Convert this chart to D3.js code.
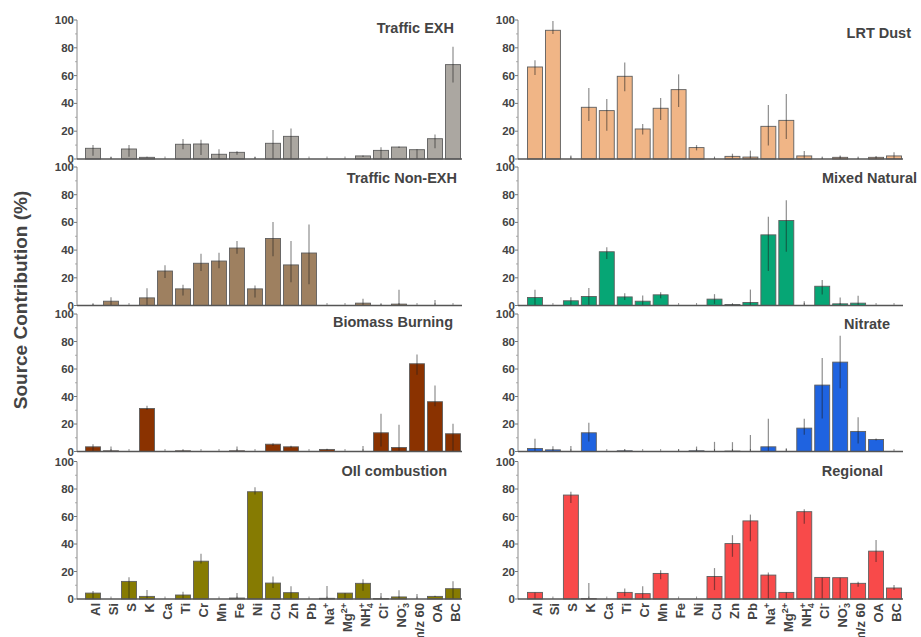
<!DOCTYPE html>
<html>
<head>
<meta charset="utf-8">
<script src="https://cdnjs.cloudflare.com/ajax/libs/d3/7.8.5/d3.min.js"></script>
<style>
  html, body { margin: 0; padding: 0; background: #fff; }
  svg { display: block; font-family: Arial, "Liberation Sans", sans-serif; }
</style>
</head>
<body>
<svg id="chart" width="921" height="637"></svg>
<script>
// Species on the x axis (shared by all eight source profiles)
const categories = ["Al","Si","S","K","Ca","Ti","Cr","Mn","Fe","Ni","Cu","Zn","Pb",
  "Na+","Mg2+","NH4+","Cl-","NO3-","m/z 60","OA","BC"];
const yTicks = [0, 20, 40, 60, 80, 100];
const yMinorTicks = [10, 30, 50, 70, 90];

// Source contribution (%) with lower / upper error bounds per species
const trafficExhVal = [7.7,0,7.2,1.2,0,10.6,10.8,3.4,4.8,0,11.3,16.3,0,0,0,2.2,6.2,8.6,6.7,14.6,67.9];
const trafficExhLo  = [2.4,0,1.7,1.0,0,7.0,2.9,0,3.0,0,0,0,0,0,0,1.5,0,8.0,0,7.7,55];
const trafficExhHi  = [10,1.5,10,1.5,0,14.4,13.9,7,5.5,1.5,20.9,22,0,0,0,2.5,8.4,9,7,17.7,80.8];

const lrtDustVal = [66.2,92.6,0,37.2,34.8,59.5,21.6,36.5,49.9,8.2,0,1.9,1.4,23.5,27.8,2.2,0,1.2,0,1.2,2.2];
const lrtDustLo  = [60.4,90,0,27.3,20.4,48.7,17.7,28,37.4,6.2,0,0,0,9.8,14.4,0,0,0,0,0,0];
const lrtDustHi  = [71,99.3,2.6,51,43.2,69.5,25.2,43.9,60.9,10,1,3.8,6,38.8,46.8,5.8,1,2.6,1,2,4.8];

const trafficNonExhVal = [0,3.1,0,5.5,24.9,12,30.5,32.1,41.5,12,48.4,29.3,37.9,0,0,1.7,0,1,0,0,0];
const trafficNonExhLo  = [0,0,0,0,19.9,7.2,24.9,26.9,37.4,5.8,35.5,16.8,15.3,0,0,0,0,0,0,0,0];
const trafficNonExhHi  = [1,6,0,12.5,29,14.9,37.4,38.1,46.5,14.4,60.2,46.5,58.5,0,0,4.8,1,11.3,0,4,0];

const mixedNaturalVal = [5.8,0,3.4,6.5,38.8,6.2,3.1,7.7,0,0,4.6,0.7,2.2,51,61.4,0,13.9,1.2,1.7,0,0];
const mixedNaturalLo  = [0,0,0,0,33.6,4,0,5.3,0,0,1.2,0,0,25,38.8,0,7.9,0,0,0,0];
const mixedNaturalHi  = [11.3,0,6,12.7,42,8.9,7.2,9.6,0,0,8.2,1,11.5,64,76,3,18.5,5.8,7,0,0];

const biomassVal = [3.4,0.5,0,31.3,0,0.5,0,0,0.5,0,5.3,3.4,0,1.5,0,0,13.6,2.9,63.8,36.2,12.9];
const biomassLo  = [0,0,0,30.1,0,0,0,0,0,0,4,2.6,0,1,0,0,3.6,0,55.8,33,0];
const biomassHi  = [5.3,3.6,0,33.3,0,1,0,0,3.6,0,6,4.2,0,2,0,4,27.4,19.4,70.6,48,20.1];

const nitrateVal = [2.2,1.2,0,13.6,0,0.5,0,0,0,0.5,0,0.3,0,3.4,0,17,48.3,65,14.6,8.7,0];
const nitrateLo  = [0,0,0,7.3,0,0,0,0,0,0,0,0,0,0,0,12.1,24,46,5.8,8,0];
const nitrateHi  = [9.2,3.9,4,20.9,0,1.5,0,0,1.5,3.6,7,6.8,12,23.8,2.4,23.8,68,84.2,25,9.5,0];

const oilVal = [4.3,0,12.8,1.9,0,2.9,27.5,0,0.7,78,11.6,4.6,0,0.5,4.3,11.4,0.3,1.5,0,1.9,7.5];
const oilLo  = [0,0,0,0,0,0,25.8,0,0,76,8,0,0,0,0,6,0,0,0,1.4,0];
const oilHi  = [5.8,0,15.9,6.5,0,5.3,32.9,0,4.3,81.2,16.4,9.2,0,9.4,4.3,14.3,4.3,6.3,3.6,2.4,13];

const regionalVal = [4.8,0,75.6,0.3,0,4.8,3.9,18.6,0,0,16.4,40.3,56.8,17.4,4.8,63.5,15.7,15.5,11.4,34.8,8];
const regionalLo  = [0,0,69.8,0,0,2,0,14.3,0,0,6.5,30.7,42,0,0,54.8,0,0,8.9,27,6.5];
const regionalHi  = [4.8,0,78,11.6,0,7.7,9.2,21,0,0,22.5,46.4,61.4,19.3,4.8,65.2,15.7,15.5,12.6,43,10.1];

// Panel grid: two columns, four rows
const columns = [
  { axisX: 77,  x0: 84,  x1: 462 },
  { axisX: 518, x0: 526, x1: 903 }
];
const rows = [
  { top: 20,    bottom: 159 },
  { top: 167,   bottom: 305.5 },
  { top: 314,   bottom: 451.5 },
  { top: 461.5, bottom: 599 }
];

const panels = [
  { title: "Traffic EXH",     col: 0, row: 0, color: "#aba7a1", val: trafficExhVal,    lo: trafficExhLo,    hi: trafficExhHi,    tx: 454, ty: 33 },
  { title: "LRT Dust",        col: 1, row: 0, color: "#f0b586", val: lrtDustVal,       lo: lrtDustLo,       hi: lrtDustHi,       tx: 911, ty: 38 },
  { title: "Traffic Non-EXH", col: 0, row: 1, color: "#9e8060", val: trafficNonExhVal, lo: trafficNonExhLo, hi: trafficNonExhHi, tx: 457, ty: 183 },
  { title: "Mixed Natural",   col: 1, row: 1, color: "#06a675", val: mixedNaturalVal,  lo: mixedNaturalLo,  hi: mixedNaturalHi,  tx: 917, ty: 183 },
  { title: "Biomass Burning", col: 0, row: 2, color: "#8a3200", val: biomassVal,       lo: biomassLo,       hi: biomassHi,       tx: 453, ty: 327 },
  { title: "Nitrate",         col: 1, row: 2, color: "#1f63e0", val: nitrateVal,       lo: nitrateLo,       hi: nitrateHi,       tx: 890, ty: 329 },
  { title: "OIl combustion",  col: 0, row: 3, color: "#867b02", val: oilVal,           lo: oilLo,           hi: oilHi,           tx: 447, ty: 476 },
  { title: "Regional",        col: 1, row: 3, color: "#f84a4a", val: regionalVal,      lo: regionalLo,      hi: regionalHi,      tx: 883, ty: 476 }
];

const svg = d3.select("#chart");
const textColor = "#444";

panels.forEach(p => {
  const c = columns[p.col], r = rows[p.row];
  const x = d3.scaleBand().domain(categories).range([c.x0, c.x1])
    .paddingInner(1 / 6).paddingOuter(1 / 12);
  const y = d3.scaleLinear().domain([0, 100]).range([r.bottom, r.top]);
  const g = svg.append("g");

  // y axis: line, major/minor ticks, labels
  g.append("line").attr("x1", c.axisX).attr("x2", c.axisX)
    .attr("y1", y(0)).attr("y2", y(100))
    .attr("stroke", "#8a8a8a").attr("stroke-width", 1);
  g.selectAll(".ymaj").data(yTicks).join("line")
    .attr("x1", c.axisX - 3).attr("x2", c.axisX)
    .attr("y1", d => y(d)).attr("y2", d => y(d))
    .attr("stroke", "#777").attr("stroke-width", 1);
  g.selectAll(".ymin").data(yMinorTicks).join("line")
    .attr("x1", c.axisX - 2).attr("x2", c.axisX)
    .attr("y1", d => y(d)).attr("y2", d => y(d))
    .attr("stroke", "#999").attr("stroke-width", 0.8);
  g.selectAll(".ylab").data(yTicks).join("text")
    .attr("x", c.axisX - 3).attr("y", d => y(d)).attr("dy", "0.35em")
    .attr("text-anchor", "end").attr("font-size", 11.5).attr("font-weight", "bold")
    .attr("fill", textColor).text(d => d);

  // category ticks on the baseline
  g.selectAll(".xt").data(categories).join("line")
    .attr("x1", d => x(d) + x.bandwidth() / 2).attr("x2", d => x(d) + x.bandwidth() / 2)
    .attr("y1", y(0)).attr("y2", y(0) - 2.5)
    .attr("stroke", "#777").attr("stroke-width", 0.8);

  // bars
  const rowsData = categories.map((k, i) => ({ k, v: p.val[i], lo: p.lo[i], hi: p.hi[i] }));
  g.selectAll(".bar").data(rowsData.filter(d => d.v > 0)).join("rect")
    .attr("x", d => x(d.k)).attr("width", x.bandwidth())
    .attr("y", d => y(d.v)).attr("height", d => y(0) - y(d.v))
    .attr("fill", p.color).attr("stroke", "#5e5e5e").attr("stroke-width", 0.9);

  // error bars
  g.selectAll(".err").data(rowsData.filter(d => d.hi > d.lo)).join("line")
    .attr("x1", d => x(d.k) + x.bandwidth() / 2).attr("x2", d => x(d.k) + x.bandwidth() / 2)
    .attr("y1", d => y(d.lo)).attr("y2", d => y(d.hi))
    .attr("stroke", "rgba(30,30,30,0.5)").attr("stroke-width", 1.2);

  // x axis baseline
  g.append("line").attr("x1", c.axisX).attr("x2", c.x1)
    .attr("y1", y(0)).attr("y2", y(0))
    .attr("stroke", "#555").attr("stroke-width", 1.4);

  // panel title
  g.append("text").attr("x", p.tx).attr("y", p.ty)
    .attr("text-anchor", "end").attr("font-size", 14.5).attr("font-weight", "bold")
    .attr("fill", textColor).text(p.title);

  // species labels under the bottom row
  if (p.row === 3) {
    const lab = g.selectAll(".xl").data(categories).join("text")
      .attr("transform", d => `translate(${x(d) + x.bandwidth() / 2 + 2},603) rotate(-90)`)
      .attr("dy", "0.35em").attr("text-anchor", "end")
      .attr("font-size", 13).attr("font-weight", "bold").attr("fill", textColor);
    lab.each(function (d) {
      const t = d3.select(this);
      const sup = (s, dx) => t.append("tspan").attr("font-size", 9).attr("dy", -5).attr("dx", dx || 0).text(s);
      const sub = s => t.append("tspan").attr("font-size", 9).attr("dy", 3).text(s);
      if (d === "Na+") { t.append("tspan").text("Na"); sup("+"); }
      else if (d === "Mg2+") { t.append("tspan").text("Mg"); sup("2+"); }
      else if (d === "NH4+") { t.append("tspan").text("NH"); sub("4"); t.append("tspan").attr("font-size", 9).attr("dx", -5).attr("dy", -8).text("+"); }
      else if (d === "Cl-") { t.append("tspan").text("Cl"); sup("-"); }
      else if (d === "NO3-") { t.append("tspan").text("NO"); sub("3"); t.append("tspan").attr("font-size", 9).attr("dx", -5).attr("dy", -8).text("-"); }
      else t.text(d);
    });
  }
});

// shared y-axis title
svg.append("text")
  .attr("transform", "translate(20,300) rotate(-90)")
  .attr("dy", "0.35em").attr("text-anchor", "middle")
  .attr("font-size", 19).attr("font-weight", "bold").attr("fill", textColor)
  .text("Source Contribution (%)");
</script>
</body>
</html>
